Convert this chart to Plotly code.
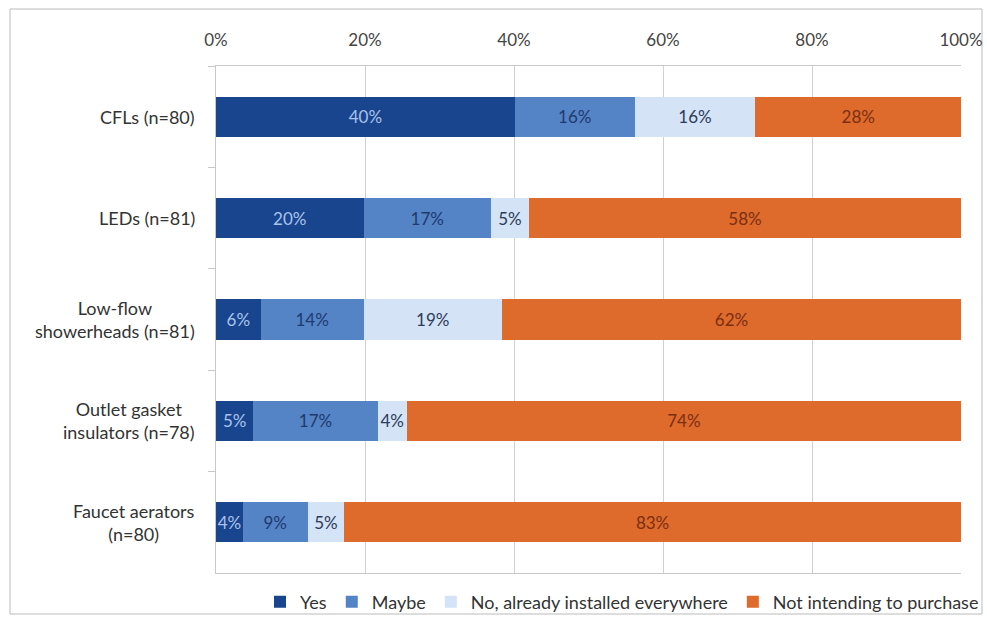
import plotly.graph_objects as go

categories = ["CFLs (n=80)", "LEDs (n=81)", "Low-flow<br>showerheads (n=81)",
              "Outlet gasket<br>insulators (n=78)", "Faucet aerators<br>(n=80)"]
series_names = ["Yes", "Maybe", "No, already installed everywhere", "Not intending to purchase"]
yes = [40.1, 19.8, 6.0, 5.0, 3.6]
maybe = [16.1, 17.1, 13.8, 16.7, 8.7]
no_installed = [16.2, 5.1, 18.6, 3.9, 4.9]
not_intending = [27.6, 58.0, 61.6, 74.4, 82.8]
tick_vals = [0, 20, 40, 60, 80, 100]
tick_text = ["0%", "20%", "40%", "60%", "80%", "100%"]

colors = ["#19458F", "#5484C6", "#D4E3F5", "#DE6A2C"]
text_colors = ["#A9C3EA", "#1F3A6E", "#2C3C5C", "#7A2F12"]
values = [yes, maybe, no_installed, not_intending]

FONT = "Lato, 'Open Sans', sans-serif"

fig = go.Figure()
for name, vals, c, tc in zip(series_names, values, colors, text_colors):
    fig.add_trace(go.Bar(
        y=categories, x=vals, name=name, orientation="h",
        marker=dict(color=c, line=dict(width=0)),
        texttemplate="%{x:.0f}%", textposition="inside",
        insidetextanchor="middle", textangle=0,
        textfont=dict(color=tc, size=17, family=FONT),
    ))

W, H = 987, 622
L, R, T, B = 216, 26, 66, 49
pw, ph = W - L - R, H - T - B

def px_x(x):
    return (x - L) / pw

def px_y(y):
    return (H - B - y) / ph

annotations = [dict(x=px_x(197), xref="paper", y=c, yref="y", text=c,
                    xanchor="right", yanchor="middle", align="center",
                    showarrow=False, font=dict(size=18, color="#333333"))
               for c in categories]

fig.update_layout(
    width=W, height=H,
    barmode="stack", bargap=0.605,
    margin=dict(l=L, r=R, t=T, b=B, autoexpand=False),
    paper_bgcolor="white", plot_bgcolor="white",
    font=dict(family=FONT, size=18, color="#333333"),
    uniformtext=dict(minsize=17, mode="show"),
    showlegend=True,
    legend=dict(orientation="h", xref="container", yref="container",
                x=622 / W, xanchor="center",
                y=(H - 602) / H, yanchor="middle",
                bgcolor="rgba(0,0,0,0)",
                font=dict(size=18, color="#333333"),
                itemwidth=30, traceorder="normal"),
    xaxis=dict(side="top", range=[0, 100], tickvals=tick_vals, ticktext=tick_text,
               showgrid=True, gridcolor="#D0D0D0", gridwidth=1,
               showline=True, linecolor="#C8C8C8", mirror=True,
               zeroline=False, ticks="", tickfont=dict(size=17, color="#444444"),
               ticklabelstandoff=12, fixedrange=True),
    yaxis=dict(autorange="reversed", showline=True, linecolor="#C8C8C8",
               ticks="outside", ticklen=7, tickcolor="#C8C8C8",
               tickson="boundaries", showgrid=False, showticklabels=False,
               fixedrange=True),
    annotations=annotations,
    shapes=[dict(type="rect", xref="paper", yref="paper",
                 x0=px_x(10), x1=px_x(982), y0=px_y(614), y1=px_y(9),
                 line=dict(color="#BBBBBB", width=1), fillcolor="rgba(0,0,0,0)",
                 layer="below")],
)

fig.write_html("out.html")
